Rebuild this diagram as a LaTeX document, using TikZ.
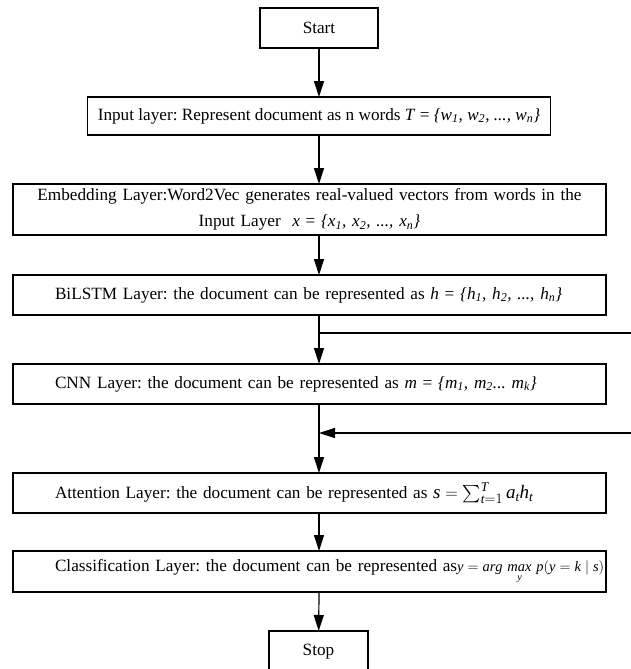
\documentclass[tikz,border=0pt]{standalone}
\usepackage{amsmath}
\usepackage{fontspec}
\setmainfont{Liberation Serif}
\usetikzlibrary{arrows.meta,positioning}
\newcommand{\sbs}[1]{\textsubscript{\textit{#1}}}
\frenchspacing

\begin{document}
\begin{tikzpicture}[x=1pt,y=-1pt,>={Triangle[length=16pt,width=10pt]},line width=1.2pt,
    font=\fontsize{17.2}{26}\selectfont,every node/.style={align=center},
    box/.style={draw,inner sep=2pt,outer sep=0pt,minimum height=40pt},
    layer/.style={box,text width=593pt,inner xsep=0pt},
    indented/.style={layer,align=left,execute at begin node={\hspace*{42pt}\hbox\bgroup},execute at end node={\egroup}}]
    \useasboundingbox (0,0) rectangle (631,669);
    \node[box,minimum width=118pt] (start) at (319,28) {Start};
    \node[box,minimum width=463pt,minimum height=38pt,below=49pt of start] (input) {Input layer: Represent document as n words \textit{T} = \textit{\{w\sbs{1}, w\sbs{2}, ..., w\sbs{n}\}}};
    \node[layer,minimum height=51pt,below=49pt of input,xshift=-9.5pt] (embed) {Embedding Layer:Word2Vec generates real-valued vectors from words in the\\Input Layer\ \ \textit{x} = \textit{\{x\sbs{1}, x\sbs{2}, ..., x\sbs{n}\}}};
    \node[indented,below=40pt of embed] (bilstm) {BiLSTM Layer: the document can be represented as \textit{h} = \textit{\{h\sbs{1}, h\sbs{2}, ..., h\sbs{n}\}}};
    \node[indented,below=49pt of bilstm] (cnn) {CNN Layer: the document can be represented as \textit{m} = \textit{\{m\sbs{1}, m\sbs{2}... m\sbs{k}\}}};
    \node[indented,below=69pt of cnn] (attention) {Attention Layer: the document can be represented as {\fontsize{19}{22}\selectfont$\mathit{s} = \sum_{\mathit{t}=1}^{\mathit{T}} \mathit{a}_{\mathit{t}}\mathit{h}_{\mathit{t}}$}};
    \node[indented,minimum height=41pt,below=38pt of attention] (classify) {Classification Layer: the document can be represented as{\fontsize{14.5}{17}\selectfont$\mathit{y} = \mathit{arg}\,\mathop{\mathit{max}}\limits_{\mathit{y}}\, \mathit{p}(\mathit{y} = \mathit{k} \mid \mathit{s})$}};
    \node[box,minimum width=99pt,minimum height=42pt,below=39pt of classify,xshift=9pt] (stop) {Stop};
    \coordinate (split) at (631,333);
    \coordinate (merge) at (631,433);
    \draw[->] (start) -- (input);
    \draw[->] (input) -- (input |- embed.north);
    \draw[->] (input |- embed.south) -- (input |- bilstm.north);
    \draw[->] (input |- bilstm.south) -- (input |- cnn.north);
    \draw (input |- split) -- (split);
    \draw[->] (input |- cnn.south) -- (input |- attention.north);
    \draw[->] (merge) -- (input |- merge);
    \draw[->] (input |- attention.south) -- (input |- classify.north);
    \draw[->] (input |- classify.south) -- (stop);
\end{tikzpicture}
\end{document}
